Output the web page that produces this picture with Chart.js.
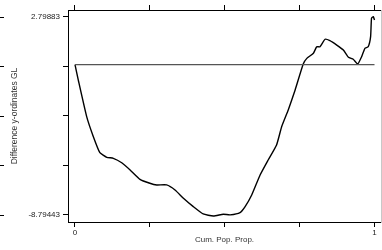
<!DOCTYPE html>
<html>
<head>
<meta charset="utf-8">
<script src="https://cdn.jsdelivr.net/npm/chart.js@4"></script>
<style>
  html, body { margin: 0; padding: 0; background: #fff; }
  #wrap { width: 382px; height: 250px; }
</style>
</head>
<body>
<div id="wrap"><canvas id="glChart" width="382" height="250"></canvas></div>
<script>
// Difference between GL ordinates vs. cumulative population proportion
const popProp = [0, 0.011, 0.039, 0.061, 0.083, 0.106, 0.128, 0.156, 0.184, 0.217, 0.25, 0.273,
    0.306, 0.334, 0.362, 0.395, 0.428, 0.462, 0.495, 0.518, 0.551, 0.568, 0.59, 0.618, 0.645,
    0.673, 0.69, 0.712, 0.735, 0.762, 0.774, 0.796, 0.807, 0.818, 0.835, 0.851, 0.874, 0.896,
    0.913, 0.929, 0.944, 0.957, 0.968, 0.979, 0.987, 0.99, 0.996, 1.0];
const diffGL = [0, -0.9, -3.04, -4.2, -5.15, -5.42, -5.48, -5.74, -6.16, -6.71, -6.94, -7.04,
    -7.04, -7.34, -7.82, -8.31, -8.74, -8.86, -8.76, -8.79, -8.66, -8.31, -7.63, -6.46, -5.58,
    -4.7, -3.63, -2.65, -1.48, 0.04, 0.37, 0.67, 1.05, 1.05, 1.49, 1.41, 1.15, 0.86,
    0.43, 0.32, 0.04, 0.47, 0.96, 1.05, 1.64, 2.72, 2.81, 2.62];
const refX = [0, 1];
const refY = [0, 0];

const xTicks = [0, 0.25, 0.5, 0.75, 1];
const xTickLabels = ['0', '', '', '', '1'];
const yTicks = [2.79883, -0.099495, -2.99780, -5.896115, -8.79443];
const yTickLabels = ['2.79883', '', '', '', '-8.79443'];

const fontFam = '"Liberation Sans", Arial, sans-serif';

// short marks on the far left edge (from the neighbouring panel)
const edgeTicks = {
    id: 'edgeTicks',
    afterDraw(chart) {
        const ctx = chart.ctx;
        const y = chart.scales.y;
        ctx.save();
        ctx.strokeStyle = '#000';
        ctx.lineWidth = 1;
        yTicks.forEach(v => {
            const py = Math.round(y.getPixelForValue(v)) + 0.5;
            ctx.beginPath();
            ctx.moveTo(0, py);
            ctx.lineTo(4, py);
            ctx.stroke();
        });
        ctx.restore();
    }
};

new Chart(document.getElementById('glChart'), {
    type: 'scatter',
    data: {
        datasets: [
            {
                data: refX.map((x, i) => ({ x: x, y: refY[i] })),
                showLine: true,
                borderColor: '#555',
                borderWidth: 1.2,
                pointRadius: 0
            },
            {
                data: popProp.map((x, i) => ({ x: x, y: diffGL[i] })),
                showLine: true,
                borderColor: '#000',
                borderWidth: 1.4,
                pointRadius: 0,
                tension: 0.15
            }
        ]
    },
    options: {
        responsive: false,
        animation: false,
        layout: { padding: 0 },
        plugins: { legend: { display: false }, tooltip: { enabled: false } },
        scales: {
            x: {
                type: 'linear',
                position: 'bottom',
                min: -0.02337,
                max: 1.0217,
                afterBuildTicks: s => { s.ticks = xTicks.map(v => ({ value: v })); },
                afterFit: s => { s.height = 28; },
                ticks: {
                    autoSkip: false,
                    maxRotation: 0,
                    padding: 1,
                    color: '#222',
                    font: { family: fontFam, size: 8 },
                    callback: (v, i) => xTickLabels[i]
                },
                grid: { drawOnChartArea: false, tickLength: 5, color: '#000' },
                border: { color: '#000', width: 1 },
                title: {
                    display: true,
                    text: 'Cum. Pop. Prop.',
                    color: '#333',
                    padding: { top: 0, bottom: 5 },
                    font: { family: fontFam, size: 8 }
                }
            },
            xTop: {
                type: 'linear',
                position: 'top',
                min: -0.02337,
                max: 1.0217,
                afterBuildTicks: s => { s.ticks = xTicks.map(v => ({ value: v })); },
                afterFit: s => { s.height = 10; },
                ticks: { display: false },
                grid: { drawOnChartArea: false, tickLength: 5, color: '#000' },
                border: { color: '#000', width: 1 }
            },
            y: {
                type: 'linear',
                min: -9.21,
                max: 3.203,
                afterBuildTicks: s => { s.ticks = yTicks.map(v => ({ value: v })); },
                afterFit: s => { s.width = 68; },
                ticks: {
                    autoSkip: false,
                    padding: 3,
                    color: '#222',
                    font: { family: fontFam, size: 8 },
                    callback: (v, i) => yTickLabels[i]
                },
                grid: { drawOnChartArea: false, tickLength: 5, color: '#000' },
                border: { color: '#000', width: 1 },
                title: {
                    display: true,
                    text: 'Difference y-ordinates GL',
                    color: '#333',
                    padding: { top: 10, bottom: 0 },
                    font: { family: fontFam, size: 8.5 }
                }
            },
            yRight: {
                type: 'linear',
                position: 'right',
                min: -9.21,
                max: 3.203,
                afterFit: s => { s.width = 1; },
                ticks: { display: false },
                grid: { drawOnChartArea: false, drawTicks: false, tickLength: 0 },
                border: { color: '#c8c8c8', width: 1 }
            }
        }
    },
    plugins: [edgeTicks]
});
</script>
</body>
</html>
